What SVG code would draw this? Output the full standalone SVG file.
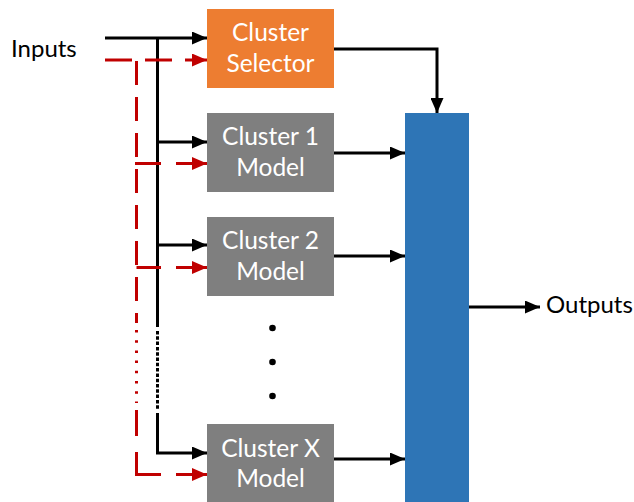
<svg xmlns="http://www.w3.org/2000/svg" width="634" height="502" viewBox="0 0 634 502">
  <style>
    .lbl { font-family: Lato, "Open Sans", "Liberation Sans", sans-serif; font-size: 24px; }
    .box-text { fill: #ffffff; text-anchor: middle; font-size: 24.5px; }
    .blk { stroke: #000000; stroke-width: 3; fill: none; }
    .red { stroke: #C00000; stroke-width: 3; fill: none; }
    .arr { marker-end: url(#ah-black); }
    .arr-red { marker-end: url(#ah-red); }
  </style>
  <defs>
    <marker id="ah-black" markerUnits="userSpaceOnUse" markerWidth="16" markerHeight="13" refX="15" refY="6.5" orient="auto">
      <path d="M0,0 L15,6.5 L0,13 z" fill="#000000"/>
    </marker>
    <marker id="ah-red" markerUnits="userSpaceOnUse" markerWidth="16" markerHeight="13" refX="15" refY="6.5" orient="auto">
      <path d="M0,0 L15,6.5 L0,13 z" fill="#C00000"/>
    </marker>
  </defs>

  <rect width="634" height="502" fill="#ffffff"/>

  <g id="connectors">
    <!-- solid input bus -->
    <line class="blk arr" x1="105" y1="38" x2="207" y2="38"/>
    <line class="blk" x1="157.5" y1="38" x2="157.5" y2="327"/>
    <line class="blk" x1="157.5" y1="331" x2="157.5" y2="409" stroke-dasharray="3.5 1.8"/>
    <path class="blk arr" d="M157.5,413 V453 H207"/>
    <line class="blk arr" x1="157.5" y1="142" x2="207" y2="142"/>
    <line class="blk arr" x1="157.5" y1="245" x2="207" y2="245"/>

    <!-- dashed input bus -->
    <line class="red" x1="105" y1="60" x2="132" y2="60"/>
    <line class="red" x1="145" y1="60" x2="172" y2="60"/>
    <line class="red arr-red" x1="185" y1="60" x2="207" y2="60"/>
    <line class="red" x1="136.5" y1="61" x2="136.5" y2="323" stroke-dasharray="24 12"/>
    <line class="red" x1="136.5" y1="330" x2="136.5" y2="403" stroke-dasharray="2.5 7.7"/>
    <line class="red" x1="136.5" y1="410" x2="136.5" y2="436"/>
    <path class="red" d="M136.5,452 V474.5 H161"/>
    <line class="red arr-red" x1="176" y1="474.5" x2="207" y2="474.5"/>
    <line class="red" x1="135" y1="163.5" x2="161" y2="163.5"/>
    <line class="red arr-red" x1="176" y1="163.5" x2="207" y2="163.5"/>
    <line class="red" x1="136.5" y1="267.5" x2="161" y2="267.5"/>
    <line class="red arr-red" x1="176" y1="267.5" x2="207" y2="267.5"/>

    <!-- outputs of selector and models -->
    <path class="blk arr" d="M334,49 H437 V113"/>
    <line class="blk arr" x1="334" y1="153" x2="405" y2="153"/>
    <line class="blk arr" x1="334" y1="256" x2="405" y2="256"/>
    <line class="blk arr" x1="334" y1="459" x2="405" y2="459"/>
    <line class="blk arr" x1="469" y1="307" x2="540" y2="307"/>
  </g>

  <g id="inputs-label">
    <text class="lbl" x="11" y="57" fill="#000000">Inputs</text>
  </g>

  <g id="cluster-selector">
    <rect x="207" y="9" width="127" height="79" fill="#ED7D31"/>
    <text class="lbl box-text" x="270.5" y="41">Cluster</text>
    <text class="lbl box-text" x="270.5" y="72">Selector</text>
  </g>

  <g id="cluster-1-model">
    <rect x="207" y="113" width="127" height="79" fill="#7F7F7F"/>
    <text class="lbl box-text" x="270.5" y="145">Cluster 1</text>
    <text class="lbl box-text" x="270.5" y="176">Model</text>
  </g>

  <g id="cluster-2-model">
    <rect x="207" y="217" width="127" height="79" fill="#7F7F7F"/>
    <text class="lbl box-text" x="270.5" y="249">Cluster 2</text>
    <text class="lbl box-text" x="270.5" y="280">Model</text>
  </g>

  <g id="ellipsis">
    <circle cx="272.5" cy="328" r="3.3" fill="#000000"/>
    <circle cx="272.5" cy="362" r="3.3" fill="#000000"/>
    <circle cx="272.5" cy="396" r="3.3" fill="#000000"/>
  </g>

  <g id="cluster-x-model">
    <rect x="207" y="424" width="127" height="79" fill="#7F7F7F"/>
    <text class="lbl box-text" x="270.5" y="457">Cluster X</text>
    <text class="lbl box-text" x="270.5" y="487">Model</text>
  </g>

  <g id="combiner">
    <rect x="405" y="113" width="64" height="392" fill="#2E75B6"/>
  </g>

  <g id="outputs-label">
    <text class="lbl" x="546" y="313" fill="#000000">Outputs</text>
  </g>
</svg>
